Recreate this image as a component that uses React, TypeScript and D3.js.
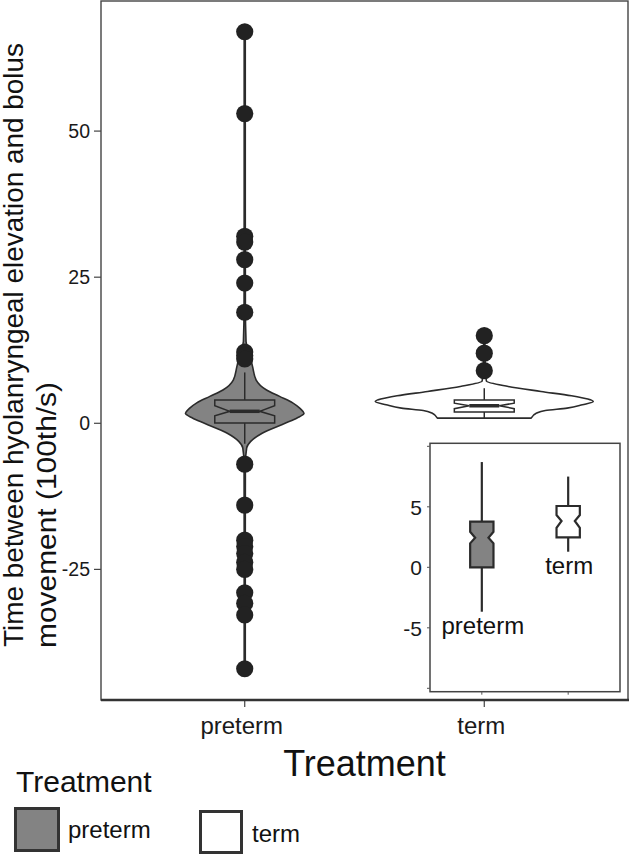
import React from "react"
import * as d3 from "d3"

// groups and fills
const groups = ["preterm", "term"]
const fills = ["#838383", "#ffffff"]

// outlying points (100th/s)
const pretermPoints = [67, 53, 32, 31, 28, 24, 19, 12.2, 11.6, 11, -7, -14, -20, -21.1, -22.3, -23.8, -25, -29, -30.8, -32.8, -42]
const termPoints = [15, 12, 9]

// violin profiles: value and relative density (half width)
const pretermViolinV = [67, 40, 20, 14, 12.6, 9.7, 7.4, 5.7, 4.6, 3.5, 2.5, 1.7, 0.9, 0, -1.7, -3.1, -4.2, -7, -20, -42]
const pretermViolinD = [0.005, 0.005, 0.006, 0.012, 0.035, 0.072, 0.105, 0.2, 0.32, 0.44, 0.51, 0.544, 0.48, 0.37, 0.16, 0.055, 0.018, 0.006, 0.005, 0.005]
const termViolinV = [15, 9, 7.2, 6.3, 5.45, 4.7, 4.14, 3.73, 3.17, 2.6, 2.2, 1.75, 0.89]
const termViolinD = [0.005, 0.01, 0.02, 0.22, 0.52, 0.8, 0.95, 1.0, 0.9, 0.76, 0.56, 0.48, 0.43]

// main boxplots [preterm, term]
const boxLower = [-3.5, 0.9]
const boxQ1 = [0.03, 1.95]
const boxNotchLo = [1.3, 2.5]
const boxMedian = [2.05, 3.0]
const boxNotchHi = [3.0, 3.45]
const boxQ3 = [4.0, 4.0]
const boxUpper = [8.7, 6.0]

// inset boxplots [preterm, term]
const insetLower = [-3.67, 1.29]
const insetQ1 = [0, 2.48]
const insetNotchLo = [1.98, 3.27]
const insetMedian = [2.45, 3.83]
const insetNotchHi = [2.94, 4.32]
const insetQ3 = [3.77, 5.07]
const insetUpper = [8.7, 7.5]

const yTicks = [-25, 0, 25, 50]
const insetTicks = [-10, -5, 0, 5, 10]
const insetTickLabels = ["", "-5", "0", "5", ""]

const font = "'Liberation Sans', Arial, sans-serif"
const ink = "#2b2b2b"

function notchPath(cx: number, hw: number, nw: number, q1: number, nlo: number, med: number, nhi: number, q3: number) {
    const pts: [number, number][] = [
        [cx - hw, q3], [cx + hw, q3], [cx + hw, nhi], [cx + nw, med], [cx + hw, nlo],
        [cx + hw, q1], [cx - hw, q1], [cx - hw, nlo], [cx - nw, med], [cx - hw, nhi],
    ]
    return d3.line()(pts) + "Z"
}

export default function App() {
    const width = 630
    const height = 857
    const left = 101, right = 628, top = 1, bottom = 700

    const x = d3.scalePoint().domain(groups).range([left, right]).padding(0.6)
    const y = d3.scaleLinear().domain([-47.35, 72.26]).range([bottom, top])
    const w = d3.scaleLinear().domain([0, 1]).range([0, 109])
    const step = x.step()
    const boxHalf = step * 0.125
    const notchHalf = boxHalf * 0.5

    const violins = [
        d3.zip(pretermViolinV, pretermViolinD),
        d3.zip(termViolinV, termViolinD),
    ]
    const points = [pretermPoints, termPoints]

    // inset
    const iLeft = 430, iRight = 620, iTop = 443.3, iBottom = 691.7
    const ix = d3.scalePoint().domain(groups).range([iLeft, iRight]).padding(0.6)
    const iy = d3.scaleLinear().domain([-10.28, 10.25]).range([iBottom, iTop])
    const iHalf = ix.step() * 0.135
    const iNotch = iHalf * 0.57

    return (
        <div style={{ position: "absolute", left: 0, top: 0 }}>
            <svg width={width} height={height} style={{ display: "block", background: "#fff" }}>
                {/* y axis title */}
                <text transform="translate(23,647) rotate(-90)" fontFamily={font} fontSize={27} fill="#111"
                    textLength={604} lengthAdjust="spacingAndGlyphs">
                    Time between hyolanryngeal elevation and bolus
                </text>
                <text transform="translate(56,648) rotate(-90)" fontFamily={font} fontSize={27} fill="#111"
                    textLength={266} lengthAdjust="spacingAndGlyphs">
                    movement (100th/s)
                </text>

                {/* y ticks */}
                {yTicks.map((t) => (
                    <g key={t}>
                        <line x1={left - 7} x2={left} y1={y(t)} y2={y(t)} stroke="#444" strokeWidth={1.2} />
                        <text x={left - 11} y={y(t) + 7} textAnchor="end" fontFamily={font} fontSize={19.5} fill="#1a1a1a">
                            {t}
                        </text>
                    </g>
                ))}

                {/* x ticks */}
                {groups.map((g) => (
                    <g key={g}>
                        <line x1={x(g)} x2={x(g)} y1={bottom} y2={bottom + 7} stroke="#444" strokeWidth={1.2} />
                        <text x={x(g)! - 3} y={734} textAnchor="middle" fontFamily={font} fontSize={24} fill="#1a1a1a">
                            {g}
                        </text>
                    </g>
                ))}
                <text x={(left + right) / 2} y={776} textAnchor="middle" fontFamily={font} fontSize={36} fill="#111">
                    Treatment
                </text>

                {/* violins */}
                {groups.map((g, i) => {
                    const cx = x(g)!
                    const area = d3
                        .area<[number, number]>()
                        .y((d) => y(d[0]))
                        .x0((d) => cx - w(d[1]))
                        .x1((d) => cx + w(d[1]))
                        .curve(d3.curveMonotoneY)
                    return (
                        <path key={g} d={area(violins[i] as [number, number][]) || ""} fill={fills[i]}
                            stroke={ink} strokeWidth={1.6} strokeLinejoin="round" />
                    )
                })}

                {/* boxplots */}
                {groups.map((g, i) => {
                    const cx = x(g)!
                    return (
                        <g key={g}>
                            <line x1={cx} x2={cx} y1={y(boxQ3[i])} y2={y(boxUpper[i])} stroke={ink} strokeWidth={1.5} />
                            <line x1={cx} x2={cx} y1={y(boxQ1[i])} y2={y(boxLower[i])} stroke={ink} strokeWidth={1.5} />
                            <path d={notchPath(cx, boxHalf, notchHalf, y(boxQ1[i]), y(boxNotchLo[i]), y(boxMedian[i]), y(boxNotchHi[i]), y(boxQ3[i]))}
                                fill={fills[i]} stroke={ink} strokeWidth={1.5} />
                            <line x1={cx - notchHalf} x2={cx + notchHalf} y1={y(boxMedian[i])} y2={y(boxMedian[i])}
                                stroke={ink} strokeWidth={3.5} />
                        </g>
                    )
                })}

                {/* points */}
                {groups.map((g, i) =>
                    points[i].map((v, j) => (
                        <circle key={g + j} cx={x(g)} cy={y(v)} r={8.6} fill="#222" />
                    )),
                )}

                {/* panel border */}
                <rect x={left} y={top} width={right - left} height={bottom - top} fill="none" stroke="#444" strokeWidth={1.4} />
                <line x1={left} x2={right + 1} y1={bottom} y2={bottom} stroke="#333" strokeWidth={2.4} />

                {/* inset */}
                <rect x={iLeft} y={iTop} width={iRight - iLeft} height={iBottom - iTop} fill="#fff" stroke="#444" strokeWidth={1.5} />
                {insetTicks.map((t, k) => (
                    <g key={t}>
                        <line x1={iLeft - 3} x2={iLeft} y1={iy(t)} y2={iy(t)} stroke="#555" strokeWidth={1} />
                        <text x={iLeft - 8} y={iy(t) + 8} textAnchor="end" fontFamily={font} fontSize={21} fill="#1a1a1a">
                            {insetTickLabels[k]}
                        </text>
                    </g>
                ))}
                {groups.map((g, i) => {
                    const cx = ix(g)!
                    return (
                        <g key={g}>
                            <line x1={cx} x2={cx} y1={iBottom} y2={iBottom + 3} stroke="#555" strokeWidth={1} />
                            <line x1={cx} x2={cx} y1={iy(insetUpper[i])} y2={iy(insetLower[i])} stroke={ink} strokeWidth={2.2} />
                            <path d={notchPath(cx, iHalf, iNotch, iy(insetQ1[i]), iy(insetNotchLo[i]), iy(insetMedian[i]), iy(insetNotchHi[i]), iy(insetQ3[i]))}
                                fill={fills[i]} stroke={ink} strokeWidth={2.2} />
                            <text x={cx + 1} y={iy(insetLower[i]) + 22} textAnchor="middle" fontFamily={font} fontSize={24} fill="#111">
                                {g}
                            </text>
                        </g>
                    )
                })}

                {/* legend */}
                <text x={16} y={792} fontFamily={font} fontSize={30} fill="#111">Treatment</text>
                <rect x={15.5} y={808.5} width={43} height={42} fill={fills[0]} stroke="#333" strokeWidth={3} />
                <text x={68} y={838} fontFamily={font} fontSize={24} fill="#111">{groups[0]}</text>
                <rect x={200.5} y={811.5} width={41} height={41} fill={fills[1]} stroke="#333" strokeWidth={3} />
                <text x={252} y={842} fontFamily={font} fontSize={24} fill="#111">{groups[1]}</text>
            </svg>
        </div>
    )
}
